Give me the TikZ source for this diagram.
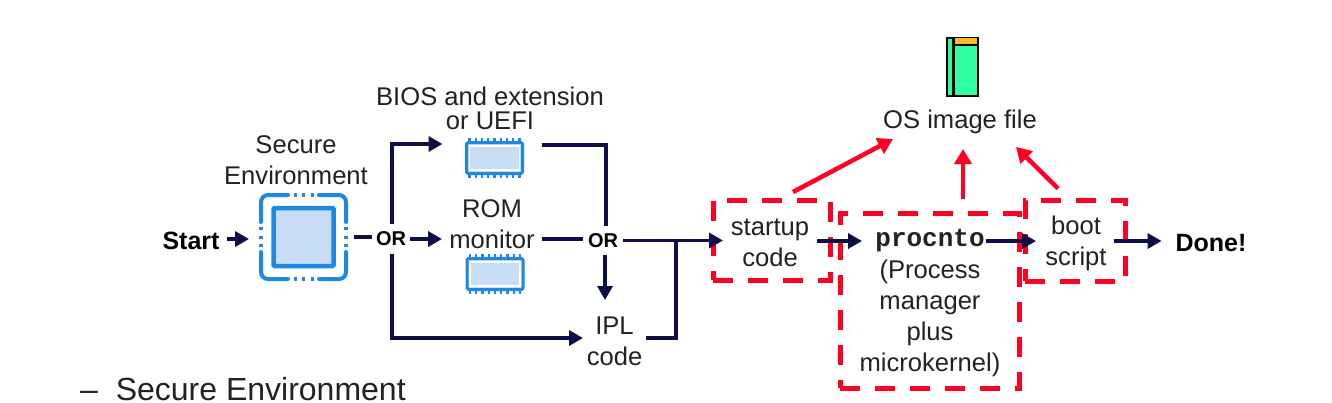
\documentclass[tikz,border=0pt]{standalone}
\usepackage{fontspec}
\setmainfont{Liberation Sans}
\setmonofont{Liberation Mono}
\usetikzlibrary{arrows.meta,calc}
\definecolor{navy}{HTML}{0E0E48}
\definecolor{redd}{HTML}{FF0022}
\definecolor{iconblue}{HTML}{1E88E5}
\definecolor{iconfill}{HTML}{C9DCF6}
\definecolor{txt}{HTML}{222222}
\definecolor{filegreen}{HTML}{2EFFA0}
\definecolor{fileorange}{HTML}{FFB733}
\tikzset{
  lbl/.style={inner sep=0pt,outer sep=0pt,align=center,text=txt,font=\fontsize{25.6}{31}\selectfont},
  tight/.style={font=\fontsize{25.6}{24}\selectfont},
  boldlbl/.style={lbl,text=black,font=\fontsize{25}{30}\selectfont\bfseries},
  orlbl/.style={lbl,text=black,font=\fontsize{20}{24}\selectfont\bfseries},
  conn/.style={draw=navy,line width=3.6pt,-{Triangle[length=14pt,width=15pt]}},
  plainconn/.style={draw=navy,line width=3.6pt},
  redconn/.style={draw=redd,line width=4.5pt,-{Triangle[length=15pt,width=17pt]}},
  redbox/.style={draw=redd,line width=5pt,dash pattern=on 20pt off 15pt,inner sep=0pt,outer sep=0pt,fill=none},
  chipbody/.style={draw=iconblue,line width=3pt,fill=iconfill,rounded corners=1.5pt,inner sep=0pt,outer sep=0pt,minimum width=56pt,minimum height=31pt},
  pins/.style={draw=iconblue,line width=2.4pt},
  secline/.style={draw=iconblue,line width=4pt,line cap=round,rounded corners=7pt},
  hole/.style={inner sep=0pt,outer sep=0pt}
}
\newcommand{\chipat}[3]{%
  \foreach \k in {0,...,8}{
    \draw[pins] ({#2-25+\k*6.25},{#3-20}) -- ({#2-25+\k*6.25},{#3+20});
  }
  \node[chipbody] (#1) at (#2,#3) {};
  \draw[white,line width=1.5pt] ({#2-25},{#3-12}) rectangle ({#2+25},{#3+12});
}
\begin{document}
\begin{tikzpicture}[x=1pt,y=-1pt]
\useasboundingbox[fill=white] (0,0) rectangle (1332,402);

% red boxes
\node[redbox,minimum width=117pt,minimum height=80pt] (startbox) at (771.5,240) {};
\node[redbox,minimum width=179pt,minimum height=175pt] (procbox) at (929.5,300.5) {};
\node[redbox,minimum width=100pt,minimum height=81pt] (bootbox) at (1075,240.5) {};

% secure environment icon
\node[hole,minimum width=85pt,minimum height=84pt] (secure) at (303.5,237) {};
\node[draw=iconblue,line width=4.5pt,fill=iconfill,rounded corners=1pt,inner sep=0pt,minimum width=60pt,minimum height=58pt] (secinner) at (303.5,237) {};
\draw[secline] (288,195) -- (261,195) -- (261,222);
\draw[secline] (319,195) -- (346,195) -- (346,222);
\draw[secline] (288,279) -- (261,279) -- (261,252);
\draw[secline] (319,279) -- (346,279) -- (346,252);
\foreach \p in {295,303.5,312}{
  \draw[iconblue,line width=4pt] (\p-1.5,195) -- (\p+1.5,195);
  \draw[iconblue,line width=4pt] (\p-1.5,279) -- (\p+1.5,279);
}
\foreach \p in {228.5,237,245.5}{
  \draw[iconblue,line width=4pt] (261,\p-1.5) -- (261,\p+1.5);
  \draw[iconblue,line width=4pt] (346,\p-1.5) -- (346,\p+1.5);
}

% chips
\chipat{bioschip}{494.5}{158}
\chipat{romchip}{495}{274}

% file icon
\node[draw=black,line width=2pt,fill=filegreen,inner sep=0pt,minimum width=31pt,minimum height=58pt] (fileicon) at (962,66.5) {};
\fill[fileorange] (955,38) rectangle (977,44);
\draw[black,line width=2.5pt] (955,45) -- (977,45);
\draw[black,line width=3pt] (953.5,37) -- (953.5,96);

% text nodes
\node[boldlbl,minimum width=72pt,minimum height=30pt] (start) at (191,241) {Start};
\node[lbl] (seclabel) at (296,160) {Secure\\Environment};
\node[orlbl,minimum width=38pt,minimum height=30pt] (or1) at (391,239) {OR};
\node[lbl,tight] (bioslabel) at (490,108) {BIOS and extension\\or UEFI};
\node[lbl,minimum width=100pt] (rom) at (492,224.5) {ROM\\monitor};
\node[orlbl,minimum width=40pt,minimum height=29pt] (or2) at (603,240.5) {OR};
\node[lbl,minimum width=63pt,minimum height=82pt] (ipl) at (614.5,341) {IPL\\code};
\node[lbl,minimum width=94pt] (startup) at (770,242.5) {startup\\code};
\node[lbl,minimum width=112pt,font=\fontsize{26}{30}\ttfamily\bfseries] (procnto) at (930,241) {procnto};
\node[lbl] (prockernel) at (930,318) {(Process\\manager\\plus\\microkernel)};
\node[lbl,minimum width=76pt] (boot) at (1076,243) {boot\\script};
\node[boldlbl,minimum width=68pt,minimum height=30pt] (done) at (1211,243) {Done!};
\node[lbl] (osfile) at (960,122) {OS image file};
\node[lbl,anchor=base west,font=\fontsize{32}{38}\selectfont] (bullet) at (80,400) {–\hspace{18pt}Secure Environment};

\coordinate (join) at (676,241);

% navy connectors
\draw[conn] ([yshift=2pt]start.east) -- ([yshift=-2pt,xshift=-12pt]secure.west);
\draw[plainconn,shorten <=8pt] (secure.east) -- (secure.east -| or1.west);
\draw[conn] ([xshift=1pt]or1.north) |- ([yshift=14pt,xshift=-24pt]bioschip.west);
\draw[conn] (or1.east) -- (rom.west |- or1.east);
\draw[conn] ([xshift=1pt]or1.south) |- ([yshift=3pt]ipl.west);
\draw[plainconn] ([yshift=-14.5pt]rom.east) -- ([yshift=-14.5pt]rom.east -| or2.west);
\draw[plainconn,line join=miter] ([yshift=13pt,xshift=19pt]bioschip.east) -| ([xshift=3pt]or2.north);
\draw[conn] ([xshift=2pt]or2.south) -- ([xshift=-9.5pt]ipl.north);
\draw[conn] (or2.east) -- (or2.east -| startup.west);
\draw[plainconn] ([yshift=3pt]ipl.east) -| (join);
\draw[conn,shorten >=12pt] (startup.east |- procnto.west) -- (procnto.west);
\draw[conn,shorten >=2pt] (procnto.east) -- (procnto.east -| boot.west);
\draw[conn,shorten >=14pt] (boot.east |- procnto.east) -- (done.west |- procnto.east);

% red connectors
\draw[redconn] ([xshift=21.5pt,yshift=8pt]startbox.north) -- ([xshift=-67pt,yshift=-17pt]osfile.center);
\draw[redconn] ([xshift=33.5pt,yshift=14pt]procbox.north) -- ([xshift=3pt,yshift=-27pt]osfile.center);
\draw[redconn] ([xshift=-17pt,yshift=11.5pt]bootbox.north) -- ([xshift=56pt,yshift=-25pt]osfile.center);
\end{tikzpicture}
\end{document}
